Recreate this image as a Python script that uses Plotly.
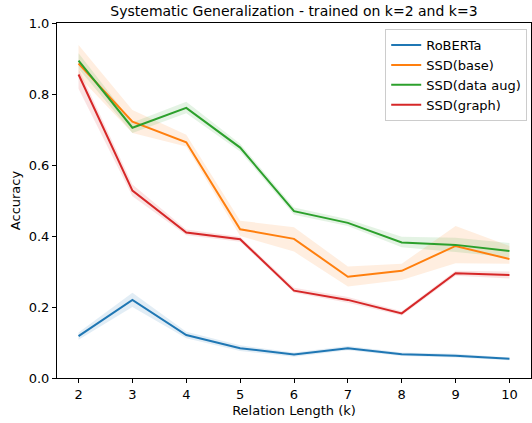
import plotly.graph_objects as go

k = [2, 3, 4, 5, 6, 7, 8, 9, 10]

roberta = [0.118, 0.220, 0.121, 0.084, 0.066, 0.084, 0.067, 0.063, 0.054]
roberta_lo = [0.108, 0.200, 0.112, 0.076, 0.060, 0.078, 0.062, 0.058, 0.050]
roberta_hi = [0.128, 0.240, 0.130, 0.092, 0.072, 0.090, 0.072, 0.068, 0.058]

ssd_base = [0.886, 0.722, 0.664, 0.419, 0.392, 0.285, 0.302, 0.372, 0.335]
ssd_base_lo = [0.850, 0.690, 0.652, 0.400, 0.356, 0.258, 0.276, 0.323, 0.322]
ssd_base_hi = [0.938, 0.755, 0.685, 0.443, 0.425, 0.314, 0.322, 0.428, 0.372]

ssd_aug = [0.894, 0.705, 0.761, 0.649, 0.470, 0.437, 0.382, 0.375, 0.358]
ssd_aug_lo = [0.872, 0.690, 0.746, 0.638, 0.460, 0.428, 0.368, 0.355, 0.340]
ssd_aug_hi = [0.915, 0.720, 0.778, 0.660, 0.480, 0.447, 0.398, 0.395, 0.380]

ssd_graph = [0.855, 0.528, 0.410, 0.391, 0.246, 0.220, 0.182, 0.295, 0.290]
ssd_graph_lo = [0.815, 0.512, 0.402, 0.384, 0.240, 0.212, 0.176, 0.288, 0.280]
ssd_graph_hi = [0.872, 0.545, 0.418, 0.398, 0.254, 0.228, 0.188, 0.302, 0.300]

names = ["RoBERTa", "SSD(base)", "SSD(data aug)", "SSD(graph)"]
colors = ["#1f77b4", "#ff7f0e", "#2ca02c", "#d62728"]
fills = ["rgba(31,119,180,0.13)", "rgba(255,127,14,0.13)",
         "rgba(44,160,44,0.13)", "rgba(214,39,40,0.13)"]
series = [(roberta, roberta_lo, roberta_hi), (ssd_base, ssd_base_lo, ssd_base_hi),
          (ssd_aug, ssd_aug_lo, ssd_aug_hi), (ssd_graph, ssd_graph_lo, ssd_graph_hi)]

font = "DejaVu Sans"
fs = 13
fig = go.Figure()
for (v, lo, hi), c, fc in zip(series, colors, fills):
    fig.add_trace(go.Scatter(x=k + k[::-1], y=hi + lo[::-1], fill="toself",
                             fillcolor=fc, line=dict(width=0), mode="lines",
                             hoverinfo="skip", showlegend=False))
for (v, lo, hi), c, n in zip(series, colors, names):
    fig.add_trace(go.Scatter(x=k, y=v, mode="lines", name=n,
                             line=dict(color=c, width=2)))

fig.update_layout(
    width=532, height=423,
    margin=dict(l=57, r=1, t=23, b=45),
    paper_bgcolor="white", plot_bgcolor="white",
    font=dict(family=font, size=fs, color="black"),
    title=dict(text="Systematic Generalization - trained on k=2 and k=3",
               x=0.5525, xanchor="center", y=0.985, yanchor="top",
               font=dict(size=14, family=font)),
    legend=dict(x=0.992, y=0.983, xanchor="right", yanchor="top",
                bordercolor="#cccccc", borderwidth=1, bgcolor="rgba(255,255,255,0.8)",
                font=dict(size=fs, family=font), tracegroupgap=0),
    showlegend=True,
)
fig.update_xaxes(range=[1.6, 10.4], tickvals=k, ticktext=[str(x) for x in k],
                 showgrid=False, zeroline=False, showline=True, linecolor="black",
                 linewidth=1, mirror=True, ticks="outside", ticklen=4, tickcolor="black",
                 title=dict(text="Relation Length (k)", standoff=5, font=dict(size=fs)))
fig.update_yaxes(range=[0, 1.0], tickvals=[0, 0.2, 0.4, 0.6, 0.8, 1.0],
                 ticktext=["0.0", "0.2", "0.4", "0.6", "0.8", "1.0"],
                 showgrid=False, zeroline=False, showline=True, linecolor="black",
                 linewidth=1, mirror=True, ticks="outside", ticklen=4, tickcolor="black",
                 title=dict(text="Accuracy", standoff=5, font=dict(size=fs)))

fig.write_html("out.html")
